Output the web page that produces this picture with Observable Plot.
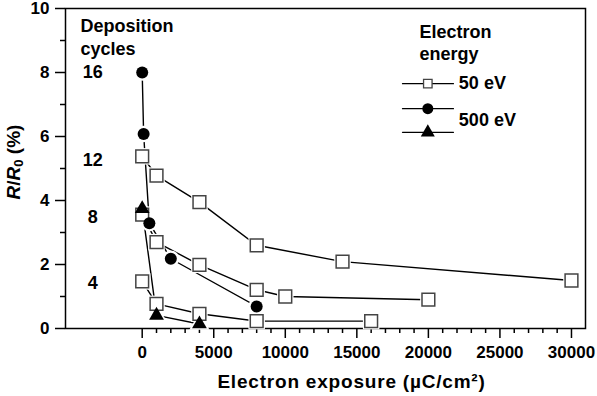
<!DOCTYPE html>
<html>
<head>
<meta charset="utf-8">
<script src="https://cdn.jsdelivr.net/npm/d3@7"></script>
<script src="https://cdn.jsdelivr.net/npm/@observablehq/plot@0.6"></script>
<style>
  html, body { margin: 0; padding: 0; background: white; }
  #chart svg { display: block; }
</style>
</head>
<body>
<div id="chart"></div>
<script>
// ---- Data ----
// 50 eV, 4 deposition cycles (open squares)
const x50c4 = [0, 1000, 4000, 8000, 16000];
const y50c4 = [1.47, 0.77, 0.46, 0.23, 0.23];
// 50 eV, 8 deposition cycles
const x50c8 = [0, 1000, 4000, 8000, 10000, 20000];
const y50c8 = [3.56, 2.70, 1.99, 1.21, 1.00, 0.90];
// 50 eV, 12 deposition cycles
const x50c12 = [0, 1000, 4000, 8000, 14000, 30000];
const y50c12 = [5.38, 4.78, 3.95, 2.60, 2.09, 1.50];
// 500 eV, filled circles
const x500c = [0, 100, 500, 2000, 8000];
const y500c = [8.00, 6.08, 3.29, 2.18, 0.69];
// 500 eV, filled triangles
const x500t = [0, 1000, 4000];
const y500t = [3.74, 0.41, 0.14];

const cycleLabels = ["16", "12", "8", "4"];
const cycleLabelY = [8.0, 5.25, 3.48, 1.41];

const xMajorTicks = [0, 5000, 10000, 15000, 20000, 25000, 30000];
const xTickLabels = ["0", "5000", "10000", "15000", "20000", "25000", "30000"];
const xMinorTicks = d3.range(0, 30001, 1000).filter(d => d % 5000 !== 0);
const yMajorTicks = [0, 2, 4, 6, 8, 10];
const yMinorTicks = [1, 3, 5, 7, 9];

const legendLabels = ["50 eV", "500 eV"];
const xTitle = "Electron exposure (µC/cm²)";

// ---- Build tables ----
const rows = (xs, ys, s) => xs.map((x, i) => ({x, y: ys[i], s}));
const squares = [
  ...rows(x50c4, y50c4, "50-4"),
  ...rows(x50c8, y50c8, "50-8"),
  ...rows(x50c12, y50c12, "50-12")
];
const circles = rows(x500c, y500c, "500-c");
const triangles = rows(x500t, y500t, "500-t");
const all = [...squares, ...circles, ...triangles];

// legend key positions (in data units, inside the frame, upper right)
const legX = [18190, 21755];
const legMid = 19960;
const legRows = [7.65, 6.87, 6.13];
const legLines = legRows.flatMap((y, i) => legX.map(x => ({x, y, k: i})));

const font = "'Liberation Sans', Arial, Helvetica, sans-serif";

const chart = Plot.plot({
  width: 597,
  height: 396,
  marginLeft: 65,
  marginRight: 12,
  marginTop: 8,
  marginBottom: 68,
  style: {fontFamily: font, fontSize: "17px", fontWeight: "bold", color: "black", background: "white", overflow: "visible"},
  x: {domain: [-5360, 30980]},
  y: {domain: [0, 10]},
  marks: [
    Plot.frame({stroke: "black", strokeWidth: 1.5}),
    Plot.axisY({ticks: yMajorTicks, tickSize: 10, tickPadding: 6, label: null, strokeWidth: 1.5, fontSize: 17}),
    Plot.axisY({ticks: yMinorTicks, tickSize: 5, tickFormat: () => "", label: null, strokeWidth: 1.5}),
    Plot.axisX({ticks: xMajorTicks, tickSize: 10, tickPadding: 7, label: null, strokeWidth: 1.5, fontSize: 17,
                tickFormat: d => xTickLabels[xMajorTicks.indexOf(d)]}),
    Plot.axisX({ticks: xMinorTicks, tickSize: 5, tickFormat: () => "", label: null, strokeWidth: 1.5}),
    Plot.text([xTitle], {frameAnchor: "bottom", dx: 26, dy: 59, fontSize: 19, fontWeight: "bold"}),

    // data lines
    Plot.line(all, {x: "x", y: "y", z: "s", stroke: "black", strokeWidth: 1.4}),
    // white halos giving the gaps between lines and markers
    Plot.dot(squares, {x: "x", y: "y", symbol: "square", r: 9.3, fill: "white"}),
    Plot.dot(circles, {x: "x", y: "y", symbol: "circle", r: 8.3, fill: "white"}),
    Plot.dot(triangles, {x: "x", y: "y", symbol: "triangle", r: 7.5, fill: "white"}),
    // markers
    Plot.dot(squares, {x: "x", y: "y", symbol: "square", r: 7.2, fill: "white", stroke: "#444", strokeWidth: 1.5}),
    Plot.dot(circles, {x: "x", y: "y", symbol: "circle", r: 6, fill: "black"}),
    Plot.dot(triangles, {x: "x", y: "y", symbol: "triangle", r: 5.5, fill: "black"}),

    // deposition-cycle annotations
    Plot.text(["Deposition", "cycles"], {x: -4310, y: [9.45, 8.74], text: d => d, textAnchor: "start", fontSize: 18, fontWeight: "bold"}),
    Plot.text(cycleLabels, {x: -3450, y: cycleLabelY, text: d => d, fontSize: 18, fontWeight: "bold"}),

    // legend
    Plot.text(["Electron", "energy"], {x: 19380, y: [9.26, 8.56], text: d => d, textAnchor: "start", fontSize: 18, fontWeight: "bold"}),
    Plot.line(legLines, {x: "x", y: "y", z: "k", stroke: "black", strokeWidth: 1.2}),
    Plot.dot([0], {x: legMid, y: legRows[0], symbol: "square", r: 4.8, fill: "white", stroke: "#444", strokeWidth: 1.3}),
    Plot.dot([0], {x: legMid, y: legRows[1], symbol: "circle", r: 5.5, fill: "black"}),
    Plot.dot([0], {x: legMid, y: legRows[2], symbol: "triangle", r: 5.2, fill: "black"}),
    Plot.text(legendLabels, {x: 22130, y: [7.65, 6.5], text: d => d, textAnchor: "start", fontSize: 18, fontWeight: "bold"})
  ]
});

const svg = d3.select(chart);
// widen the x-axis title slightly like the reference
svg.selectAll("text").filter(function() { return this.textContent === xTitle; })
  .style("letter-spacing", "0.8px");

// y-axis title with italic R and subscript 0
const t = svg.append("text")
  .attr("transform", "translate(15,162) rotate(-90)")
  .attr("text-anchor", "middle")
  .attr("dominant-baseline", "middle")
  .attr("font-family", font)
  .attr("font-size", 19)
  .attr("font-weight", "bold")
  .attr("fill", "black");
t.append("tspan").attr("font-style", "italic").text("R");
t.append("tspan").text("/");
t.append("tspan").attr("font-style", "italic").text("R");
t.append("tspan").attr("font-size", 13).attr("dy", 5).text("0");
t.append("tspan").attr("dy", -5).text(" (%)");

document.getElementById("chart").appendChild(chart);
</script>
</body>
</html>
